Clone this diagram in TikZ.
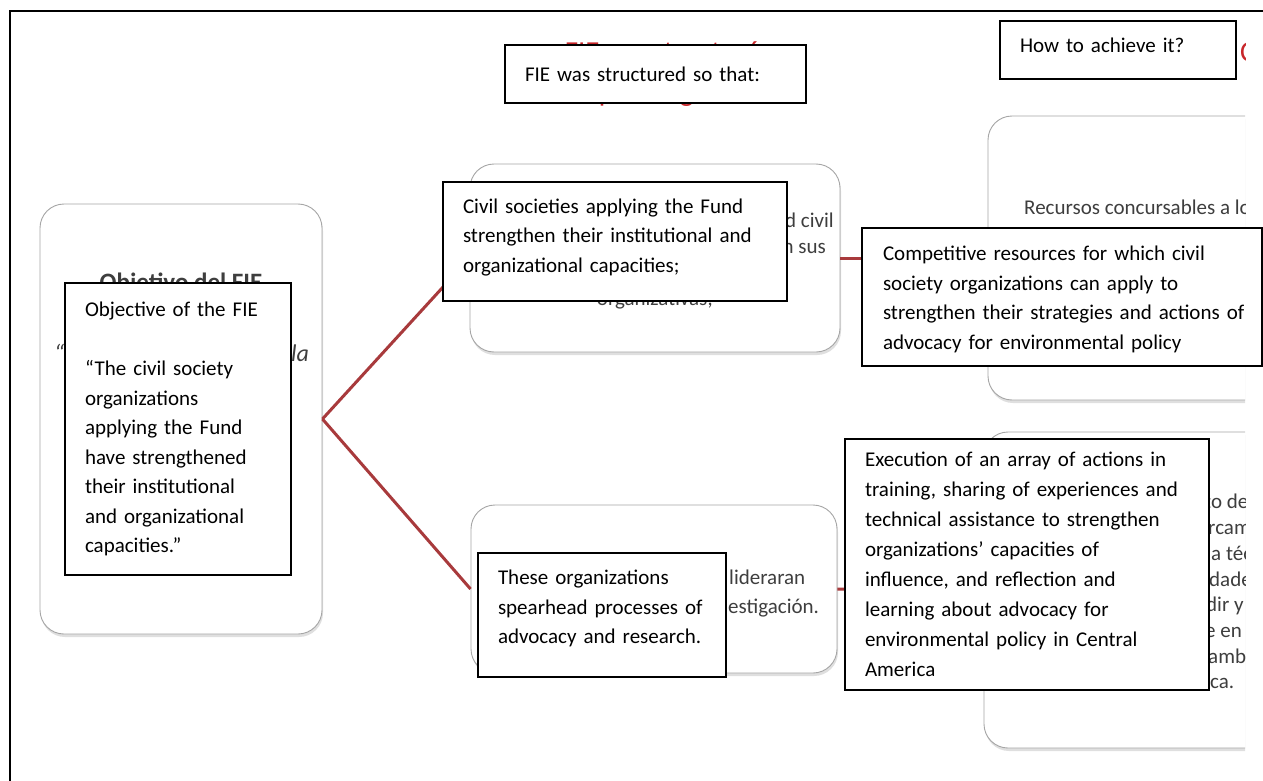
\documentclass[tikz,border=0pt]{standalone}
\usepackage{fontspec}
\setmainfont{Carlito}
\usepackage[dvipsnames]{xcolor}
\usetikzlibrary{shadows,positioning}
\definecolor{linkred}{RGB}{168,58,60}
\definecolor{titlered}{RGB}{200,38,42}
\definecolor{slidegray}{RGB}{62,62,62}
\tikzset{%
slidebox/.style={rectangle, rounded corners=24pt, draw=gray!70, line width=0.9pt, fill=white, inner sep=0pt, drop shadow={shadow xshift=1pt, shadow yshift=-3pt, opacity=0.25}},
engbox/.style={rectangle, draw=black, line width=1.6pt, fill=white, inner xsep=20pt, inner ysep=0pt, align=left, font=\fontsize{21}{29.5}\selectfont},
engtext/.style={inner sep=0pt, align=left, font=\fontsize{21}{29.5}\selectfont},
link/.style={draw=linkred, line width=3pt},
spanish/.style={text=slidegray, inner sep=0pt, font=\fontsize{21}{26}\selectfont}
}

\begin{document}
\begin{tikzpicture}[x=1pt, y=-1pt,
		redtitle/.style={text=titlered, inner sep=0pt, font=\fontsize{29}{35}\selectfont},
		quote/.style={spanish, font=\itshape\fontsize{24}{29}\selectfont}]
	\useasboundingbox (0,0) rectangle (1263,781);
	\fill[white] (0,0) rectangle (1263,781);
	% frame of the screenshot
	\draw[line width=2pt] (10,781) -- (10,11) -- (1263,11);
	
	\begin{scope}
		\clip (0,0) rectangle (1245,781);
		% slide underneath
		\node[redtitle, anchor=base] (titleA) at (663,62) {FIE se estructuró};
		\node[redtitle, anchor=base] (titleB) at (663,102) {para lograr};
		\node[redtitle, anchor=base west] (titleC) at (1240,62) {Cómo};
		
		\node[slidebox, minimum width=282pt, minimum height=430pt] (objBox) at (181,419) {};
		\node[slidebox, minimum width=370pt, minimum height=188pt] (civilBox) at (655,258) {};
		\node[slidebox, minimum width=366pt, minimum height=168pt] (advocBox) at (654,589) {};
		\node[slidebox, minimum width=312pt, minimum height=284pt] (compBox) at (1144,258) {};
		\node[slidebox, minimum width=316pt, minimum height=316pt] (execBox) at (1142,590) {};
		
		\node[spanish, font=\bfseries\fontsize{25}{30}\selectfont, anchor=base] (objTitle) at (181,290) {Objetivo del FIE};
		\node[quote, anchor=base west] (objQuote) at (54,361) {“};
		\node[quote, anchor=base west] (objLa) at (291,361) {la};
		
		\node[spanish, anchor=base east] (civA) at (834,227) {d civil};
		\node[spanish, anchor=base east] (civB) at (826,253) {n sus};
		\node[spanish, anchor=base] (civC) at (655,305) {organizativas;};
		
		\node[spanish, anchor=base west] (advA) at (729,584) {lideraran};
		\node[spanish, anchor=base west] (advB) at (728,613) {estigación.};
		
		\node[spanish, anchor=base west] (compA) at (1024,214) {Recursos concursables a los};
		
		\node[spanish, anchor=base west] (exA) at (1204,508) {to de};
		\node[spanish, anchor=base west] (exB) at (1208,534) {rcam};
		\node[spanish, anchor=base west] (exC) at (1211,560) {a téc};
		\node[spanish, anchor=base west] (exD) at (1209,586) {dade};
		\node[spanish, anchor=base west] (exE) at (1206,611) {dir y};
		\node[spanish, anchor=base west] (exF) at (1205,637) {e en};
		\node[spanish, anchor=base west] (exG) at (1208,663) {ambi};
		\node[spanish, anchor=base west] (exH) at (1210,688) {ca.};
		
		\path[link] (objBox.east) edge (civilBox.west);
		\path[link] (objBox.east) edge (advocBox.west);
		\path[link] (civilBox.east) edge (compBox.west);
		\path[link] (advocBox.east) edge (execBox.west);
	\end{scope}
	
	% english boxes on top
	\node[engbox, minimum width=301pt, minimum height=58pt, text width=261pt] (fieEn) at (655.5,74) {FIE was structured so that:};
	\node[engbox, minimum width=236pt, minimum height=58pt, text width=196pt, text depth=10pt] (howEn) at (1118,50) {How to achieve it?};
	\node[engbox, minimum width=226pt, minimum height=292pt, text width=186pt] (objEn) at (178,429)
		{Objective of the FIE\\[29.5pt]“The civil society\\organizations\\applying the Fund\\have strengthened\\their institutional\\and organizational\\capacities.”};
	\node[engbox, minimum width=344pt, minimum height=119pt] (civilEn) at (615,241.5) {};
	\node[engtext, text width=304pt] (civilTxt) at (615,237.5)
		{Civil societies applying the Fund\\strengthen their institutional and\\organizational capacities;};
	\node[engbox, minimum width=248pt, minimum height=124pt] (advocEn) at (602,615) {};
	\node[engtext, text width=208pt] (advocTxt) at (602,608.5)
		{These organizations\\spearhead processes of\\advocacy and research.};
	\node[engbox, minimum width=400pt, minimum height=138pt] (compEn) at (1062,297) {};
	\node[engtext, text width=370pt] (compTxt) at (1068,299.5)
		{Competitive resources for which civil\\society organizations can apply to\\strengthen their strategies and actions of\\advocacy for environmental policy};
	\node[engbox, minimum width=364pt, minimum height=251pt, text width=324pt, font=\fontsize{21}{30}\selectfont] (execEn) at (1027,564.5)
		{Execution of an array of actions in\\training, sharing of experiences and\\technical assistance to strengthen\\organizations’ capacities of\\influence, and reflection and\\learning about advocacy for\\environmental policy in Central\\America};
\end{tikzpicture}
\end{document}
